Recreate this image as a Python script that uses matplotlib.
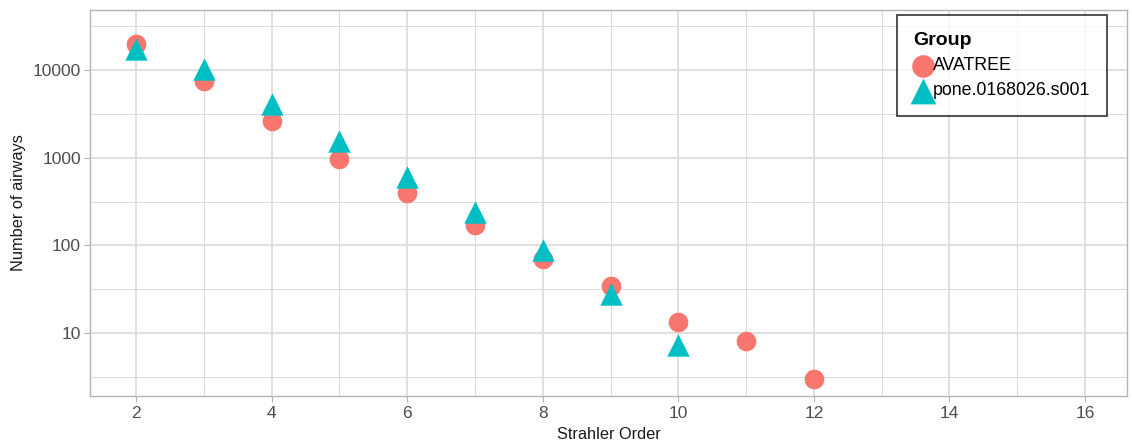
import matplotlib
matplotlib.use("Agg")
import matplotlib.pyplot as plt
import numpy as np
from matplotlib.ticker import FixedLocator, NullFormatter

plt.rcParams['font.family'] = ['Liberation Sans', 'DejaVu Sans']

# data
avatree_x = [2, 3, 4, 5, 6, 7, 8, 9, 10, 11, 12]
avatree_y = [20000, 7500, 2620, 960, 400, 170, 70, 34, 13.3, 8.1, 3.0]
pone_x = [2, 3, 4, 5, 6, 7, 8, 9, 10]
pone_y = [17500, 10300, 4100, 1550, 600, 240, 88, 28, 7.4]
x_ticks = [2, 4, 6, 8, 10, 12, 14, 16]
y_ticks = [10, 100, 1000, 10000]
y_labels = ["10", "100", "1000", "10000"]

fig = plt.figure(figsize=(11.32, 4.42), dpi=100)
ax = fig.add_axes([90/1132, 46/442, (1127-90)/1132, (396-10)/442])

ax.set_yscale('log')
ax.set_xlim(1.32, 16.62)
ax.set_ylim(10**0.282, 10**4.684)

grid_col = '#DADADA'
ax.set_xticks(x_ticks)
ax.xaxis.set_minor_locator(FixedLocator([1, 3, 5, 7, 9, 11, 13, 15]))
ax.yaxis.set_major_locator(FixedLocator(y_ticks))
ax.set_yticklabels(y_labels)
ax.yaxis.set_minor_locator(FixedLocator([10**k * np.sqrt(10) for k in range(0, 5)]))
ax.yaxis.set_minor_formatter(NullFormatter())
ax.grid(True, which='major', color=grid_col, linewidth=1.2)
ax.grid(True, which='minor', color=grid_col, linewidth=0.7)
ax.set_axisbelow(True)

for s in ax.spines.values():
    s.set_color('#B3B3B3')
    s.set_linewidth(1.0)

ax.tick_params(axis='both', which='major', colors='#B3B3B3', length=4, width=0.8,
               labelcolor='#4D4D4D', labelsize=12.5)
ax.tick_params(axis='y', which='major', pad=2.5)
ax.tick_params(axis='both', which='minor', length=0)

ax.scatter(avatree_x, avatree_y, s=200, marker='o', color='#F8766D', linewidths=0,
           label='AVATREE', zorder=3)
ax.scatter(pone_x, pone_y, s=260, marker='^', color='#00BFC4', linewidths=0,
           label='pone.0168026.s001', zorder=4)

ax.set_xlabel('Strahler Order', fontsize=11.8, color='#1A1A1A', labelpad=4)
ax.set_ylabel('Number of airways', fontsize=11.8, color='#1A1A1A', labelpad=5)

leg = ax.legend(title='Group', loc='upper right', bbox_to_anchor=(1107/1132, 1-15/442),
                bbox_transform=fig.transFigure, frameon=True, fancybox=False,
                edgecolor='black', fontsize=12.8, title_fontsize=14,
                handletextpad=0.02, borderpad=0.95, labelspacing=0.45,
                handlelength=1.05, borderaxespad=0, markerscale=1.15)
leg.get_frame().set_linewidth(1.2)
leg.get_title().set_fontweight('bold')
leg._legend_box.align = 'left'
leg._legend_box.sep = 6

fig.savefig('out.png', dpi=100)
